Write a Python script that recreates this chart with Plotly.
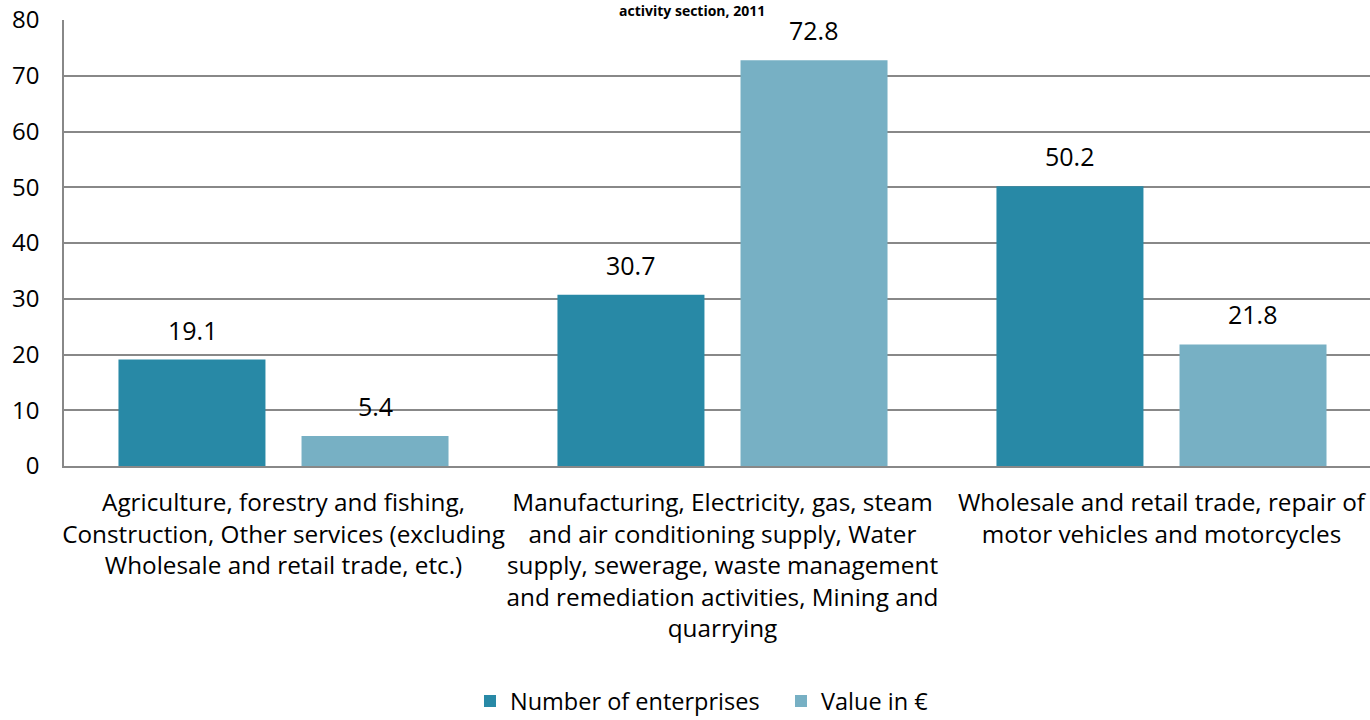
import plotly.graph_objects as go

categories = [
    "Agriculture, forestry and fishing,<br>Construction, Other services (excluding<br>Wholesale and retail trade, etc.)",
    "Manufacturing, Electricity, gas, steam<br>and air conditioning supply, Water<br>supply, sewerage, waste management<br>and remediation activities, Mining and<br>quarrying",
    "Wholesale and retail trade, repair of<br>motor vehicles and motorcycles",
]
enterprises = [19.1, 30.7, 50.2]
value_eur = [5.4, 72.8, 21.8]
series_names = ["Number of enterprises", "Value in €"]
y_ticks = [0, 10, 20, 30, 40, 50, 60, 70, 80]
title_text = "activity section, 2011"

FONT = "Open Sans"
BAR_COLORS = ["#2889A6", "#77B0C4"]
SLOT_SHIFT = 91.5  # px offset of each bar within its group (label placement)

fig = go.Figure()
for name, vals, col in zip(series_names, [enterprises, value_eur], BAR_COLORS):
    fig.add_trace(go.Bar(
        x=categories, y=vals, name=name,
        marker=dict(color=col, line=dict(width=0)),
        hoverinfo="x+y",
    ))

annotations = []
for i, vals in enumerate([enterprises, value_eur]):
    shift = -SLOT_SHIFT if i == 0 else SLOT_SHIFT
    for c, v in zip(categories, vals):
        annotations.append(dict(
            x=c, y=v, xref="x", yref="y", text=f"{v:.1f}", showarrow=False,
            xanchor="center", yanchor="bottom", xshift=shift, yshift=11,
            font=dict(size=25, family=FONT, color="#000000"),
        ))
annotations.append(dict(
    text="<b>" + title_text + "</b>", xref="paper", yref="paper",
    x=0.481, y=1.0, xanchor="center", yanchor="middle", yshift=10,
    showarrow=False, font=dict(size=14, family=FONT, color="#000000"),
))

fig.update_layout(
    width=1370, height=720,
    margin=dict(l=64, r=0, t=20, b=254),
    paper_bgcolor="white", plot_bgcolor="white",
    font=dict(family=FONT, size=24, color="#000000"),
    barmode="group", bargap=0.166, bargroupgap=0.197,
    showlegend=True,
    legend=dict(orientation="h", x=0.549, xanchor="center",
                yref="container", y=0.026, yanchor="middle",
                font=dict(size=23.5, family=FONT), itemwidth=30, traceorder="normal",
                entrywidth=266, entrywidthmode="pixels"),
    annotations=annotations,
)
fig.update_xaxes(showline=True, linecolor="#888888", linewidth=1.5, ticks="",
                 automargin=False, range=[-0.5, 2.475], tickangle=0,
                 tickfont=dict(size=24.3, family=FONT), ticklabelstandoff=14)
fig.update_yaxes(range=[0, 80], tickvals=y_ticks, showgrid=True, gridcolor="#888888",
                 gridwidth=1.5, showline=True, linecolor="#888888", linewidth=1.5,
                 automargin=False,
                 zeroline=False, ticks="", tickfont=dict(size=24, family=FONT),
                 ticklabelstandoff=18)

page_fix = (
    "var h=document.documentElement,b=document.body;"
    "h.style.margin='0';h.style.padding='0';h.style.overflow='hidden';h.style.height='720px';"
    "b.style.margin='0';b.style.padding='0';b.style.overflow='hidden';b.style.height='720px';"
)
fig.write_html("out.html", config={"displayModeBar": False}, post_script=page_fix)
